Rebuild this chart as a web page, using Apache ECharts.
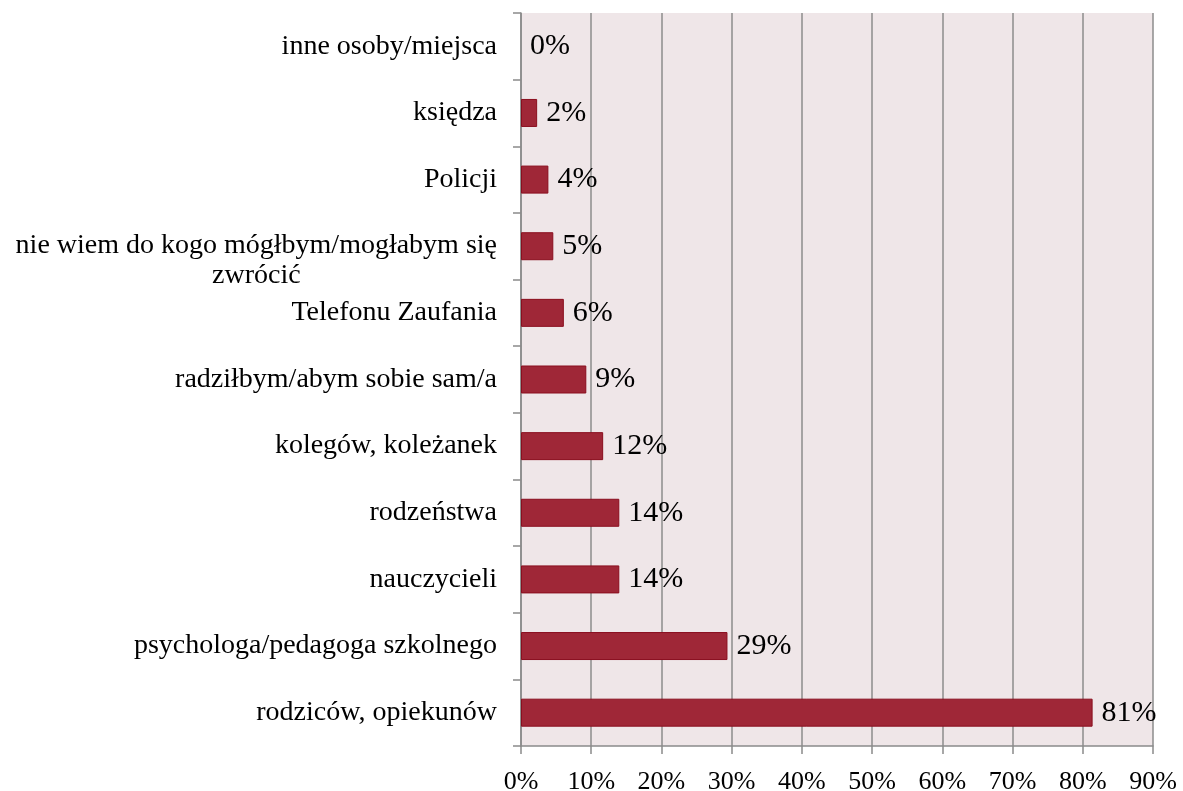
<!DOCTYPE html>
<html>
<head>
<meta charset="utf-8">
<style>
  html, body { margin: 0; padding: 0; background: #fff; }
  #chart { width: 1183px; height: 791px; }
</style>
<script src="https://cdn.jsdelivr.net/npm/echarts@6/dist/echarts.min.js"></script>
</head>
<body>
<div id="chart"></div>
<script>
// top to bottom, as drawn
const categories = [
  'inne osoby/miejsca',
  'księdza',
  'Policji',
  'nie wiem do kogo mógłbym/mogłabym się\nzwrócić',
  'Telefonu Zaufania',
  'radziłbym/abym sobie sam/a',
  'kolegów, koleżanek',
  'rodzeństwa',
  'nauczycieli',
  'psychologa/pedagoga szkolnego',
  'rodziców, opiekunów'
]
const values = [0, 2.3, 3.9, 4.6, 6.1, 9.3, 11.7, 14.0, 14.0, 29.4, 81.4]
const xMin = 0
const xMax = 90
const xStep = 10

const serif = '"Liberation Serif", "Times New Roman", serif'

const chart = echarts.init(document.getElementById('chart'))

chart.setOption({
  backgroundColor: '#ffffff',
  animation: false,
  grid: {
    left: 521,
    right: 30,
    top: 13,
    bottom: 45,
    outerBoundsMode: 'none',
    show: true,
    backgroundColor: '#efe6e8',
    borderWidth: 0
  },
  xAxis: {
    type: 'value',
    min: xMin,
    max: xMax,
    interval: xStep,
    axisLine: { show: true, lineStyle: { color: '#8a8a8a', width: 1.5 } },
    axisTick: { show: true, length: 8, lineStyle: { color: '#8a8a8a', width: 1.5 } },
    splitLine: { show: true, lineStyle: { color: '#8c8c8c', width: 1.5 } },
    axisLabel: {
      margin: 23,
      color: '#000',
      fontFamily: serif,
      fontSize: 26,
      formatter: (v) => v + '%'
    }
  },
  yAxis: {
    type: 'category',
    inverse: true,
    data: categories.map((c) =>
      c.indexOf('\n') >= 0
        ? { value: c, textStyle: { padding: [28, 0, 0, 0] } }
        : c
    ),
    axisLine: { show: true, lineStyle: { color: '#8a8a8a', width: 1.5 } },
    axisTick: { show: true, length: 8, lineStyle: { color: '#8a8a8a', width: 1.5 } },
    axisLabel: {
      margin: 24,
      color: '#000',
      fontFamily: serif,
      fontSize: 28,
      align: 'right',
      formatter: (v) => v.split('\n').map((s) => '{c|' + s + '}').join('\n'),
      rich: {
        c: {
          align: 'center',
          fontFamily: serif,
          fontSize: 28,
          lineHeight: 30,
          color: '#000'
        }
      }
    }
  },
  series: [
    {
      type: 'bar',
      // a zero bar would otherwise leave a thin border line
      data: values.map((v) => (v === 0 ? { value: v, itemStyle: { borderWidth: 0 } } : v)),
      barWidth: 28,
      itemStyle: {
        color: '#9f2737',
        borderColor: '#8a0e1e',
        borderWidth: 1
      },
      label: {
        show: true,
        position: 'right',
        distance: 9,
        color: '#000',
        fontFamily: serif,
        fontSize: 30,
        formatter: (p) => Math.round(p.value) + '%'
      }
    }
  ]
})
</script>
</body>
</html>
